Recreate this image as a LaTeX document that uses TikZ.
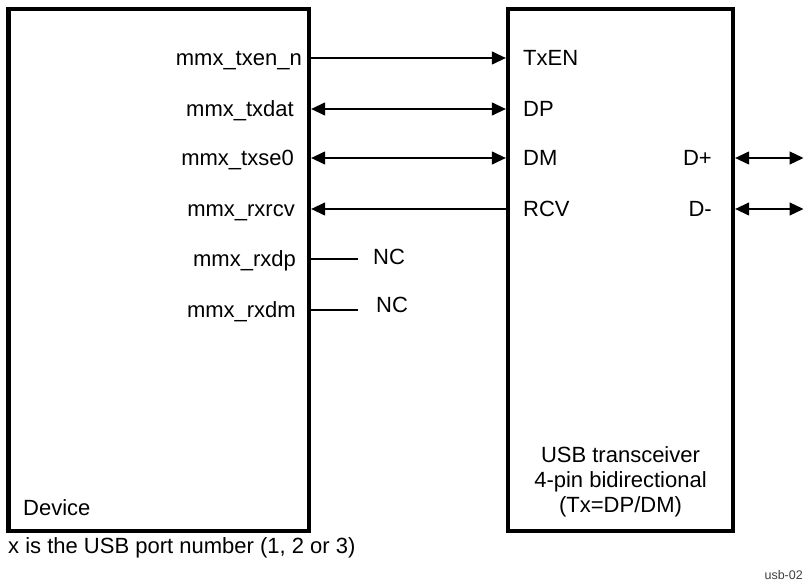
\documentclass[tikz,border=0pt]{standalone}
\usepackage{fontspec}
\setmainfont{Liberation Sans}
\usetikzlibrary{arrows.meta,positioning,calc}

\begin{document}
\begin{tikzpicture}[x=1pt,y=-1pt,>={Triangle[length=14pt,width=13pt]},
 font=\fontsize{22}{25}\selectfont,
 blk/.style={draw,line width=4.3pt,inner sep=0pt},
 sig/.style={line width=1.3pt},
 pin/.style={inner sep=0pt}]
\useasboundingbox (0,0) rectangle (804,588);
\node[blk,minimum width=300.5pt,minimum height=522pt] (dev) at (158.75,270) {};
\node[blk,minimum width=225pt,minimum height=522pt] (xcvr) at (620.5,270) {};
% signal rows
\coordinate (r1) at (0,58);
\coordinate (r2) at (0,109);
\coordinate (r3) at (0,158);
\coordinate (r4) at (0,209);
\coordinate (r5) at (0,259);
\coordinate (r6) at (0,310);
\coordinate (bus1) at (803.5,158);
\coordinate (bus2) at (803.5,209);
% device pins
\node[pin,anchor=base east] (txen) at (302,65.5) {mmx\_txen\_n};
\node[pin,anchor=base east] (txdat) at (294,116.5) {mmx\_txdat};
\node[pin,anchor=base east] (txse0) at (294,165.5) {mmx\_txse0};
\node[pin,anchor=base east] (rxrcv) at (295,216.5) {mmx\_rxrcv};
\node[pin,anchor=base east] (rxdp) at (296,266.5) {mmx\_rxdp};
\node[pin,anchor=base east] (rxdm) at (296,317.5) {mmx\_rxdm};
\node[pin,anchor=base west] (devname) at (23,515) {Device};
% transceiver pins
\node[pin,anchor=base west] (ten) at (523,65.5) {TxEN};
\node[pin,anchor=base west] (dp) at (523,116.5) {DP};
\node[pin,anchor=base west] (dm) at (523,165.5) {DM};
\node[pin,anchor=base west] (rcv) at (523,216.5) {RCV};
\node[pin,anchor=base east] (dplus) at (712,165.5) {D+};
\node[pin,anchor=base east] (dminus) at (712,216.5) {D-};
\node[pin,anchor=south,align=center] (xname) at (620.5,517.5) {USB transceiver\\4-pin bidirectional\\(Tx=DP/DM)};
% not connected
\node[pin,anchor=base west] (nc1) at (373,265) {NC};
\node[pin,anchor=base west] (nc2) at (376,313) {NC};
% notes
\node[pin,anchor=base west] (note) at (8,553) {x is the USB port number (1, 2 or 3)};
\node[pin,anchor=base east,font=\fontsize{12.5}{15}\selectfont,text=black!75] (fig) at (803,579) {usb-02};
\draw[sig,->] (dev.east |- r1) -- (xcvr.west |- r1);
\draw[sig,<->] (dev.east |- r2) -- (xcvr.west |- r2);
\draw[sig,<->] (dev.east |- r3) -- (xcvr.west |- r3);
\draw[sig,<-] (dev.east |- r4) -- (xcvr.west |- r4);
\draw[sig] (dev.east |- r5) -- ([xshift=-15pt]nc1.west |- r5);
\draw[sig] (dev.east |- r6) -- ([xshift=-18pt]nc2.west |- r6);
\draw[sig,<->] (xcvr.east |- r3) -- (bus1);
\draw[sig,<->] (xcvr.east |- r4) -- (bus2);
\end{tikzpicture}
\end{document}
